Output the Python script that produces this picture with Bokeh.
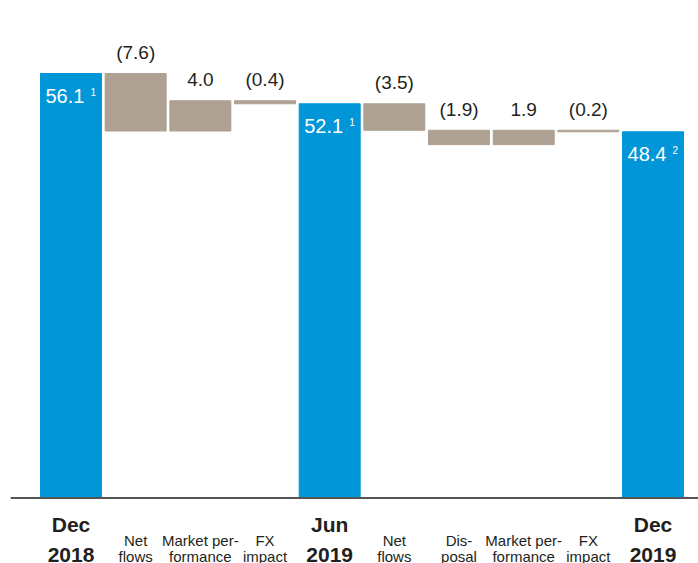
from bokeh.plotting import figure
from bokeh.models import ColumnDataSource, Span, Range1d
from bokeh.core.properties import value
from bokeh.embed import file_html
from bokeh.resources import INLINE

# ---- data ----
line1 = ["Dec", "Net", "Market per-", "FX", "Jun", "Net", "Dis-", "Market per-", "FX", "Dec"]
line2 = ["2018", "flows", "formance", "impact", "2019", "flows", "posal", "formance", "impact", "2019"]
is_total = [True, False, False, False, True, False, False, False, False, True]
values = [56.1, -7.6, 4.0, -0.4, 52.1, -3.5, -1.9, 1.9, -0.2, 48.4]
footnotes = ["1", "", "", "", "1", "", "", "", "", "2"]

BLUE = "#0096D8"
BROWN = "#AEA193"
DARK = "#231F20"
FONT = "Liberation Sans"

# ---- waterfall geometry from data ----
xs, bottoms, tops, colors = [], [], [], []
running = 0.0
for i, (v, t) in enumerate(zip(values, is_total)):
    xs.append(i)
    if t:
        bottoms.append(0.0)
        tops.append(v)
        running = v
        colors.append(BLUE)
    else:
        start = running
        end = running + v
        bottoms.append(min(start, end))
        tops.append(max(start, end))
        running = end
        colors.append(BROWN)

bars = ColumnDataSource(dict(x=xs, bottom=bottoms, top=tops, color=colors))

tot_idx = [i for i in range(len(values)) if is_total[i]]
tot_src = ColumnDataSource(dict(
    x=tot_idx,
    y=[values[i] for i in tot_idx],
    txt=[f"{values[i]:.1f}" for i in tot_idx],
    fn=[footnotes[i] for i in tot_idx],
))

d_idx = [i for i in range(len(values)) if not is_total[i]]
d_src = ColumnDataSource(dict(
    x=d_idx,
    y=[tops[i] for i in d_idx],
    txt=[(f"({abs(values[i]):.1f})" if values[i] < 0 else f"{values[i]:.1f}") for i in d_idx],
))

big_src = ColumnDataSource(dict(x=tot_idx, zero=[0] * len(tot_idx),
                                l1=[line1[i] for i in tot_idx], l2=[line2[i] for i in tot_idx]))
small_src = ColumnDataSource(dict(x=d_idx, zero=[0] * len(d_idx),
                                  l1=[line1[i] for i in d_idx], l2=[line2[i] for i in d_idx]))

p = figure(width=698, height=563, output_backend="svg", toolbar_location=None,
           x_range=Range1d(-0.9355, 9.703), y_range=Range1d(-8.66, 65.75),
           min_border=0, min_border_left=10)
p.outline_line_color = None
p.axis.visible = False
p.grid.visible = False
p.background_fill_color = "white"
p.border_fill_color = "white"

p.vbar(x="x", bottom="bottom", top="top", width=0.943, color="color", source=bars)

p.add_layout(Span(location=0, dimension="width", line_color="#555555", line_width=2))

# values inside blue bars
p.text(x="x", y="y", text="txt", source=tot_src, x_offset=-25.5, y_offset=22.6,
       text_align="left", text_baseline="alphabetic", text_color="white",
       text_font=value(FONT), text_font_size="20px")
p.text(x="x", y="y", text="fn", source=tot_src, x_offset=19.5, y_offset=18.3,
       text_align="left", text_baseline="alphabetic", text_color="white",
       text_font=value(FONT), text_font_size="10px")

# delta labels above bars
p.text(x="x", y="y", text="txt", source=d_src, y_offset=-21,
       text_align="center", text_baseline="alphabetic", text_color=DARK,
       text_font=value(FONT), text_font_size="19px")

# category labels
p.text(x="x", y="zero", text="l1", source=big_src, y_offset=27,
       text_align="center", text_baseline="alphabetic", text_color=DARK,
       text_font=value(FONT), text_font_size="21px", text_font_style="bold")
p.text(x="x", y="zero", text="l2", source=big_src, y_offset=57,
       text_align="center", text_baseline="alphabetic", text_color=DARK,
       text_font=value(FONT), text_font_size="21px", text_font_style="bold")
p.text(x="x", y="zero", text="l1", source=small_src, y_offset=42.5,
       text_align="center", text_baseline="alphabetic", text_color=DARK,
       text_font=value(FONT), text_font_size="15px")
p.text(x="x", y="zero", text="l2", source=small_src, y_offset=58.5,
       text_align="center", text_baseline="alphabetic", text_color=DARK,
       text_font=value(FONT), text_font_size="15px")

open("out.html", "w").write(file_html(p, INLINE))
